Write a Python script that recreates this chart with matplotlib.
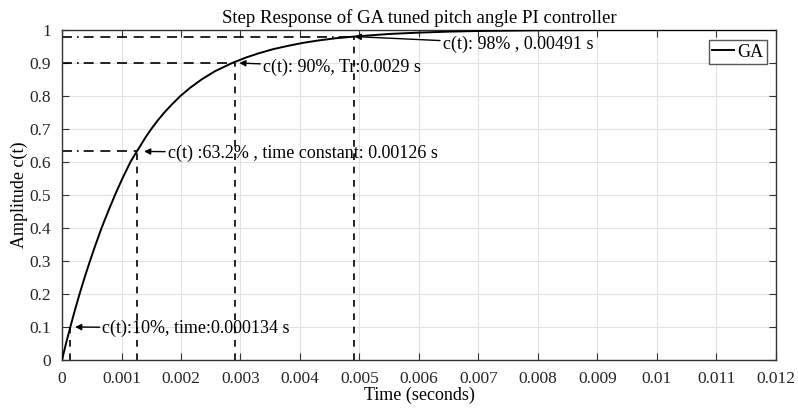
import numpy as np
import matplotlib.pyplot as plt
from matplotlib.ticker import FormatStrFormatter

plt.rcParams['font.family'] = ['Liberation Serif', 'DejaVu Serif']

# step response
t_ms = [0, 0.067, 0.14, 0.215, 0.295, 0.38, 0.47, 0.565, 0.665, 0.775, 0.89, 1.015,
        1.15, 1.257, 1.32, 1.405, 1.5, 1.605, 1.72, 1.85, 1.99, 2.155, 2.345, 2.57,
        2.86, 3.1, 3.3, 3.55, 3.8, 4.05, 4.3, 4.6, 4.91, 5.2, 5.5, 6.0, 6.5, 7.0, 8.0,
        9.0, 12.0]
amp = [0, 0.05, 0.1, 0.15, 0.2, 0.25, 0.3, 0.35, 0.4, 0.45, 0.5, 0.55,
       0.6, 0.632, 0.65, 0.675, 0.7, 0.725, 0.75, 0.775, 0.8, 0.825, 0.85, 0.875, 0.9,
       0.917, 0.929, 0.942, 0.952, 0.961, 0.968, 0.975, 0.98, 0.984, 0.988, 0.992,
       0.995, 0.997, 0.999, 1.0, 1.0]
t = np.array(t_ms) / 1000.0

# marked points
marks_t = [0.000134, 0.00126, 0.0029, 0.00491]
marks_y = [0.1, 0.632, 0.9, 0.98]
labels = ["c(t):10%, time:0.000134 s",
          "c(t) :63.2% , time constant: 0.00126 s",
          "c(t): 90%, Tr:0.0029 s",
          "c(t): 98% , 0.00491 s"]
text_x = [0.00068, 0.00178, 0.00338, 0.0064]
text_y = [0.097, 0.627, 0.887, 0.957]
arrow_x = [0.00022, 0.00138, 0.00298, 0.00492]
arrow_y = [0.1, 0.632, 0.9, 0.98]

fig = plt.figure(figsize=(7.98, 4.08), dpi=100)
ax = fig.add_axes([0.0777, 0.1176, 0.8947, 0.8089])

ax.plot(t, amp, color='black', lw=1.4, label='GA', zorder=3)

for i in range(len(marks_t)):
    ax.plot([marks_t[i], marks_t[i]], [0, marks_y[i]], color='black', lw=1.2,
            ls=(0, (4, 4)), zorder=2)
    if i > 0:
        ax.plot([0, marks_t[i]], [marks_y[i], marks_y[i]], color='black', lw=1.2,
                ls=(0, (6, 3, 1, 3, 6, 4, 6, 4, 6, 4, 6, 4, 6, 4, 6, 4, 6, 4, 6, 4,
                        6, 4, 6, 4, 6, 4, 6, 4, 6, 4, 6, 4, 6, 4, 6, 4, 6, 4, 6, 4)),
                zorder=2)
    ax.annotate(labels[i], xy=(arrow_x[i], arrow_y[i]), xytext=(text_x[i], text_y[i]),
                fontsize=13, va='center', ha='left',
                arrowprops=dict(arrowstyle='-|>', color='black', lw=1.0,
                                mutation_scale=9, shrinkA=0, shrinkB=0))

ax.set_xlim(0, 0.012)
ax.set_ylim(0, 1)
ax.set_xticks(np.arange(0, 0.0121, 0.001))
ax.set_yticks(np.arange(0, 1.01, 0.1))
ax.xaxis.set_major_formatter(FormatStrFormatter('%g'))
ax.yaxis.set_major_formatter(FormatStrFormatter('%g'))
ax.tick_params(direction='in', top=True, right=True, labelsize=12.5, length=5,
               colors='#333333', labelcolor='#262626')
ax.tick_params(axis='x', pad=8)
ax.tick_params(axis='y', pad=8)
ax.grid(True, color='#e2e2e2', lw=0.8)
for s in ax.spines.values():
    s.set_color('#333333')
    s.set_linewidth(1.0)

ax.set_title('Step Response of GA tuned pitch angle PI controller', fontsize=13.5, pad=5)
ax.set_xlabel('Time (seconds)', fontsize=13, labelpad=0)
ax.set_ylabel('Amplitude c(t)', fontsize=13, labelpad=1)

leg = ax.legend(loc='upper right', fontsize=13, handlelength=1.2, handletextpad=0.2,
                borderpad=0.2, borderaxespad=0, fancybox=False, framealpha=1,
                bbox_to_anchor=(0.988, 0.97))
leg.get_frame().set_edgecolor('#555555')

fig.savefig('out.png', dpi=100)
